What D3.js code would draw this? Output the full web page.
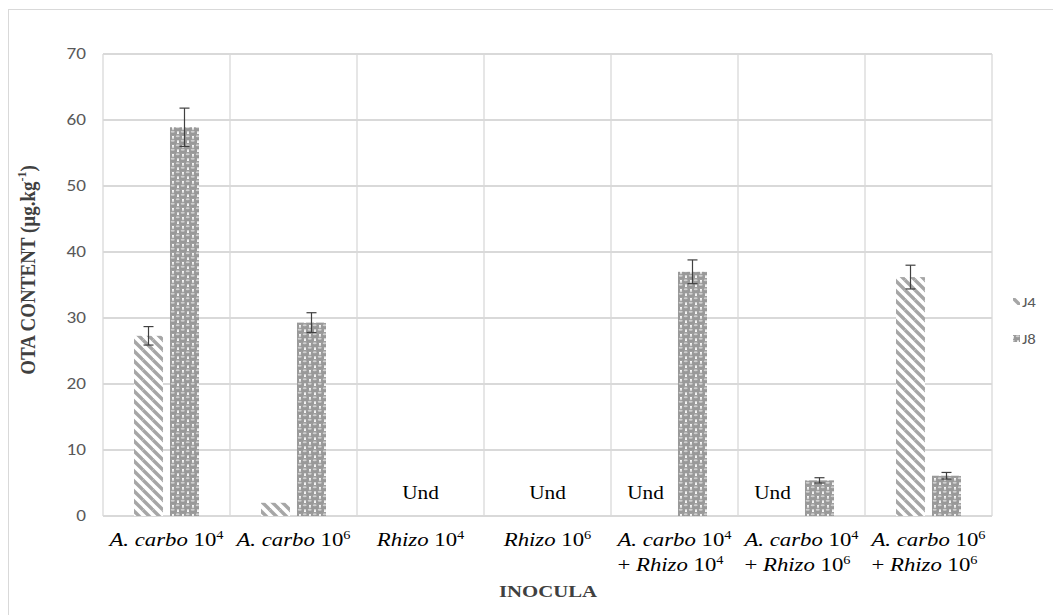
<!DOCTYPE html>
<html>
<head>
<meta charset="utf-8">
<script src="https://cdn.jsdelivr.net/npm/d3@7"></script>
<style>
  body { margin: 0; background: #fff; }
  svg { display: block; }
</style>
</head>
<body>
<div id="chart"></div>
<script>
// data
const categories = ["ac4", "ac6", "rh4", "rh6", "ac4rh4", "ac4rh6", "ac6rh6"];
const labelLines = [
  [["A. carbo", "4"]],
  [["A. carbo", "6"]],
  [["Rhizo", "4"]],
  [["Rhizo", "6"]],
  [["A. carbo", "4"], ["+ Rhizo", "4"]],
  [["A. carbo", "4"], ["+ Rhizo", "6"]],
  [["A. carbo", "6"], ["+ Rhizo", "6"]]
];
const series = ["J4", "J8"];
const j4 = [27.3, 2.0, 0, 0, 0, 0, 36.2];
const j8 = [58.9, 29.3, 0, 0, 37.0, 5.4, 6.1];
const j4Err = [1.4, 0, 0, 0, 0, 0, 1.8];
const j8Err = [2.9, 1.5, 0, 0, 1.8, 0.4, 0.5];
const undLabels = [
  {cat: "rh4", at: "center"},
  {cat: "rh6", at: "center"},
  {cat: "ac4rh4", at: "J4"},
  {cat: "ac4rh6", at: "J4"}
];
const yTicks = [0, 10, 20, 30, 40, 50, 60, 70];

const W = 1053, H = 615;
const SX = 1.2; // the figure is stretched horizontally
const serif = "Liberation Serif, Times New Roman, serif";
const sans = "Carlito, Calibri, Open Sans, sans-serif";

const svg = d3.select("#chart").append("svg")
  .attr("width", W).attr("height", H);

// chart frame
svg.append("rect")
  .attr("x", 8.5).attr("y", 9.5)
  .attr("width", 1100).attr("height", 700)
  .attr("fill", "none").attr("stroke", "#d9d9d9");

const defs = svg.append("defs");

// J4 : wide downward diagonal
const p4 = defs.append("pattern")
  .attr("id", "pJ4").attr("patternUnits", "userSpaceOnUse")
  .attr("width", 10).attr("height", 10);
p4.append("rect").attr("width", 10).attr("height", 10).attr("fill", "#fff");
[[-10, 0], [0, 0], [10, 0], [0, -10], [0, 10]].forEach(([dx, dy]) => {
  p4.append("line")
    .attr("x1", dx).attr("y1", dy)
    .attr("x2", dx + 10).attr("y2", dy + 10)
    .attr("stroke", "#a6a6a6").attr("stroke-width", 3.4);
});

// J8 : sphere pattern
const p8 = defs.append("pattern")
  .attr("id", "pJ8").attr("patternUnits", "userSpaceOnUse")
  .attr("width", 10).attr("height", 9);
p8.append("rect").attr("width", 10).attr("height", 9).attr("fill", "#fff");
[[5, 2.25], [0, 6.75], [10, 6.75], [0, -2.25], [10, -2.25], [5, 11.25]].forEach(([cx, cy]) => {
  p8.append("ellipse").attr("cx", cx).attr("cy", cy)
    .attr("rx", 4.2).attr("ry", 3.2).attr("fill", "#999999");
  p8.append("ellipse").attr("cx", cx - 0.3).attr("cy", cy - 1.0)
    .attr("rx", 2.0).attr("ry", 0.9).attr("fill", "#cfcfcf");
});

const pLeft = 103, pRight = 992, pTop = 54, pBottom = 516;

const x0 = d3.scaleBand().domain(categories).range([pLeft, pRight]).paddingInner(0).paddingOuter(0);
const x1 = d3.scaleBand().domain(series).range([31, 96]).paddingInner(0.194);
const y = d3.scaleLinear().domain([0, 70]).range([pBottom, pTop]);

// horizontal grid
svg.append("g").selectAll("line").data(yTicks).join("line")
  .attr("x1", pLeft).attr("x2", pRight)
  .attr("y1", d => y(d)).attr("y2", d => y(d))
  .attr("stroke", "#d9d9d9").attr("stroke-width", 2);

// vertical grid
const vx = categories.map(c => x0(c)).concat([pRight]);
svg.append("g").selectAll("line").data(vx).join("line")
  .attr("x1", d => d).attr("x2", d => d)
  .attr("y1", pTop).attr("y2", pBottom)
  .attr("stroke", "#d9d9d9").attr("stroke-width", 1.3);

// y tick labels
svg.append("g").selectAll("text").data(yTicks).join("text")
  .attr("transform", d => `translate(86,${y(d) + 5}) scale(${SX},1)`)
  .attr("text-anchor", "end")
  .attr("font-family", sans)
  .attr("font-size", 16)
  .attr("fill", "#595959")
  .text(d => d);

// bars
const rows = categories.map((c, i) => ({cat: c, vals: [
  {s: "J4", v: j4[i], e: j4Err[i]},
  {s: "J8", v: j8[i], e: j8Err[i]}
]}));

const grp = svg.append("g").selectAll("g").data(rows).join("g")
  .attr("transform", d => `translate(${x0(d.cat)},0)`);

grp.selectAll("rect").data(d => d.vals.filter(v => v.v > 0)).join("rect")
  .attr("x", d => x1(d.s))
  .attr("width", x1.bandwidth())
  .attr("y", d => y(d.v))
  .attr("height", d => y(0) - y(d.v))
  .attr("fill", d => `url(#p${d.s})`);

// error bars
const eb = grp.selectAll("g.err").data(d => d.vals.filter(v => v.e > 0)).join("g")
  .attr("class", "err")
  .attr("stroke", "#404040").attr("stroke-width", 1.2);
const mid = d => x1(d.s) + x1.bandwidth() / 2;
eb.append("line")
  .attr("x1", mid).attr("x2", mid)
  .attr("y1", d => y(d.v + d.e)).attr("y2", d => y(d.v - d.e));
eb.append("line")
  .attr("x1", d => mid(d) - 5).attr("x2", d => mid(d) + 5)
  .attr("y1", d => y(d.v + d.e)).attr("y2", d => y(d.v + d.e));
eb.append("line")
  .attr("x1", d => mid(d) - 5).attr("x2", d => mid(d) + 5)
  .attr("y1", d => y(d.v - d.e)).attr("y2", d => y(d.v - d.e));

// "Und" labels
svg.append("g").selectAll("text").data(undLabels).join("text")
  .attr("transform", d => {
    const cx = d.at === "center"
      ? x0(d.cat) + x0.bandwidth() / 2
      : x0(d.cat) + x1(d.at) + x1.bandwidth() / 2 - 11;
    return `translate(${cx},${y(0) - 17}) scale(1.12,1)`;
  })
  .attr("text-anchor", "middle")
  .attr("font-family", serif)
  .attr("font-size", 19)
  .attr("fill", "#000")
  .text("Und");

// category labels
const xl = svg.append("g");
categories.forEach((c, i) => {
  const cx = x0(c) + x0.bandwidth() / 2;
  const lines = labelLines[i];
  const g = xl.append("g").attr("transform", `translate(${cx},0) scale(${SX},1)`);
  let left = null;
  lines.forEach((ln, k) => {
    const t = g.append("text")
      .attr("y", 546 + k * 25)
      .attr("font-family", serif)
      .attr("font-size", 19)
      .attr("fill", "#000");
    const name = ln[0];
    if (name.startsWith("+ ")) {
      t.append("tspan").text("+ ");
      t.append("tspan").attr("font-style", "italic").text(name.slice(2));
    } else {
      t.append("tspan").attr("font-style", "italic").text(name);
    }
    t.append("tspan").text(" 10");
    t.append("tspan").attr("font-size", 12).attr("dy", -7).text(ln[1]);
    if (k === 0) {
      t.attr("text-anchor", "middle");
      left = -t.node().getComputedTextLength() / 2;
    } else {
      t.attr("x", left);
    }
  });
});

// axis titles
svg.append("text")
  .attr("transform", `translate(548,597) scale(1.3,1)`)
  .attr("text-anchor", "middle")
  .attr("font-family", serif)
  .attr("font-weight", "bold")
  .attr("font-size", 16)
  .attr("fill", "#404040")
  .text("INOCULA");

const yt = svg.append("text")
  .attr("transform", `translate(35,270) rotate(-90) scale(1,1.1)`)
  .attr("text-anchor", "middle")
  .attr("font-family", serif)
  .attr("font-weight", "bold")
  .attr("font-size", 19)
  .attr("fill", "#404040");
yt.append("tspan").text("OTA CONTENT (µg.kg");
yt.append("tspan").attr("font-size", 12).attr("dy", -8).text("-1");
yt.append("tspan").attr("dy", 8).text(")");

// legend
const lg = svg.append("g").selectAll("g").data(series).join("g")
  .attr("transform", (d, i) => `translate(1013,${298 + i * 37})`);
lg.append("rect")
  .attr("width", 7).attr("height", 7)
  .attr("fill", d => `url(#p${d})`);
lg.append("text")
  .attr("transform", `translate(9,9) scale(${SX},1)`)
  .attr("font-family", sans)
  .attr("font-size", 14)
  .attr("fill", "#595959")
  .text(d => d);
</script>
</body>
</html>
